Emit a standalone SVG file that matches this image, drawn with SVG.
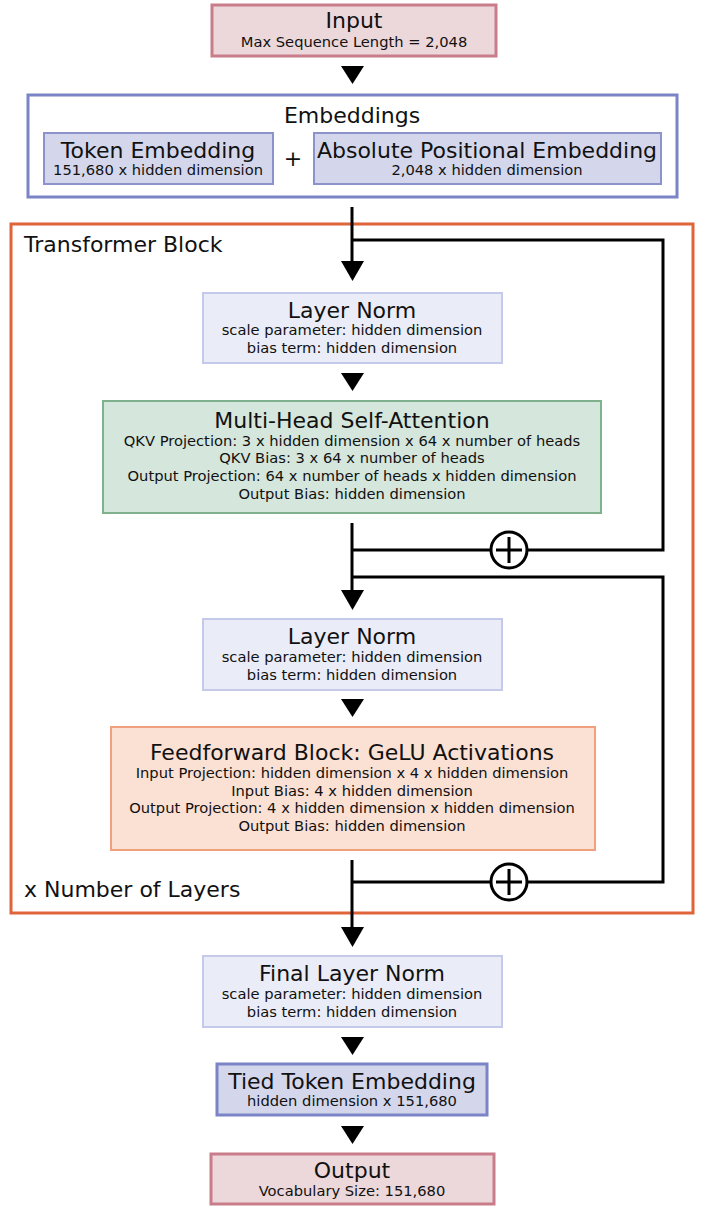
<svg xmlns="http://www.w3.org/2000/svg" width="710" height="1207" viewBox="0 0 710 1207">
<style>
text{font-family:"DejaVu Sans","Verdana",sans-serif;fill:#111;text-anchor:middle}
.t{font-size:22px}
.s{font-size:14.7px}
.lbl{font-size:22px;text-anchor:start}
.pink{fill:#ecd7da;stroke:#c97c8a;stroke-width:3}
.blue{fill:#d4d7ec;stroke:#8c92cc;stroke-width:2}
.blue3{fill:#d4d7ec;stroke:#7b84c6;stroke-width:3}
.ln{fill:#eaecf7;stroke:#c5c9ea;stroke-width:2}
.line{fill:none;stroke:#000;stroke-width:3}
.tri{fill:#000}
</style>
<g id="transformer-block">
<rect x="11" y="224" width="682" height="689" fill="none" stroke="#e0643a" stroke-width="3"/>
<text class="lbl" x="24" y="252">Transformer Block</text>
<text class="lbl" x="24" y="897">x Number of Layers</text>
</g>
<g id="input">
<rect class="pink" x="212" y="5" width="284" height="51"/>
<text class="t" x="354" y="28">Input</text>
<text class="s" x="354" y="47">Max Sequence Length = 2,048</text>
</g>
<g id="embeddings">
<rect x="28" y="95" width="649" height="102" fill="#fff" stroke="#7b84c6" stroke-width="3"/>
<text class="t" x="352" y="123">Embeddings</text>
</g>
<g id="token-embedding">
<rect class="blue" x="44" y="133" width="229" height="51"/>
<text class="t" x="158" y="158">Token Embedding</text>
<text class="s" x="158" y="175">151,680 x hidden dimension</text>
</g>
<text class="t" x="293" y="166">+</text>
<g id="positional-embedding">
<rect class="blue" x="314" y="133" width="347" height="51"/>
<text class="t" x="487" y="158">Absolute Positional Embedding</text>
<text class="s" x="487" y="175">2,048 x hidden dimension</text>
</g>
<g id="layer-norm-1">
<rect class="ln" x="203" y="293" width="299" height="70"/>
<text class="t" x="352" y="318">Layer Norm</text>
<text class="s" x="352" y="335">scale parameter: hidden dimension</text>
<text class="s" x="352" y="353">bias term: hidden dimension</text>
</g>
<g id="mhsa">
<rect x="103" y="401" width="498" height="112" fill="#d5e6dc" stroke="#7fb28c" stroke-width="2"/>
<text class="t" x="352" y="428">Multi-Head Self-Attention</text>
<text class="s" x="352" y="446">QKV Projection: 3 x hidden dimension x 64 x number of heads</text>
<text class="s" x="352" y="463">QKV Bias: 3 x 64 x number of heads</text>
<text class="s" x="352" y="481">Output Projection: 64 x number of heads x hidden dimension</text>
<text class="s" x="352" y="499">Output Bias: hidden dimension</text>
</g>
<g id="layer-norm-2">
<rect class="ln" x="203" y="619" width="299" height="71"/>
<text class="t" x="352" y="644">Layer Norm</text>
<text class="s" x="352" y="662">scale parameter: hidden dimension</text>
<text class="s" x="352" y="680">bias term: hidden dimension</text>
</g>
<g id="ffn">
<rect x="111" y="727" width="484" height="123" fill="#fbe0d4" stroke="#f0a07d" stroke-width="2"/>
<text class="t" x="352" y="760">Feedforward Block: GeLU Activations</text>
<text class="s" x="352" y="778">Input Projection: hidden dimension x 4 x hidden dimension</text>
<text class="s" x="352" y="796">Input Bias: 4 x hidden dimension</text>
<text class="s" x="352" y="813">Output Projection: 4 x hidden dimension x hidden dimension</text>
<text class="s" x="352" y="831">Output Bias: hidden dimension</text>
</g>
<g id="final-layer-norm">
<rect class="ln" x="203" y="956" width="299" height="71"/>
<text class="t" x="352" y="981">Final Layer Norm</text>
<text class="s" x="352" y="999">scale parameter: hidden dimension</text>
<text class="s" x="352" y="1017">bias term: hidden dimension</text>
</g>
<g id="tied-embedding">
<rect class="blue3" x="217" y="1064" width="270" height="51"/>
<text class="t" x="352" y="1089">Tied Token Embedding</text>
<text class="s" x="352" y="1106">hidden dimension x 151,680</text>
</g>
<g id="output">
<rect class="pink" x="211" y="1154" width="283" height="50"/>
<text class="t" x="352" y="1178">Output</text>
<text class="s" x="352" y="1196">Vocabulary Size: 151,680</text>
</g>
<g id="connectors">
<path class="tri" d="M341,66 L364,66 L352.5,84 z"/>
<path class="line" d="M352,207 V262"/>
<path class="tri" d="M341,261 L364,261 L352.5,281 z"/>
<path class="line" d="M352,240 H663 V550 H527"/>
<path class="tri" d="M341,373 L364,373 L352.5,391 z"/>
<path class="line" d="M352,523 V591"/>
<path class="tri" d="M341,590 L364,590 L352.5,610 z"/>
<path class="line" d="M491,550 H352"/>
<circle cx="509" cy="550" r="18" fill="#fff" stroke="#000" stroke-width="3"/>
<path class="line" d="M509,537 V563 M496,550 H522"/>
<path class="line" d="M352,577 H663 V882 H527"/>
<path class="tri" d="M341,699 L364,699 L352.5,717 z"/>
<path class="line" d="M352,860 V928"/>
<path class="tri" d="M341,927 L364,927 L352.5,947 z"/>
<path class="line" d="M491,882 H352"/>
<circle cx="509" cy="882" r="18" fill="#fff" stroke="#000" stroke-width="3"/>
<path class="line" d="M509,869 V895 M496,882 H522"/>
<path class="tri" d="M341,1037 L364,1037 L352.5,1055 z"/>
<path class="tri" d="M341,1126 L364,1126 L352.5,1144 z"/>
</g>
</svg>
